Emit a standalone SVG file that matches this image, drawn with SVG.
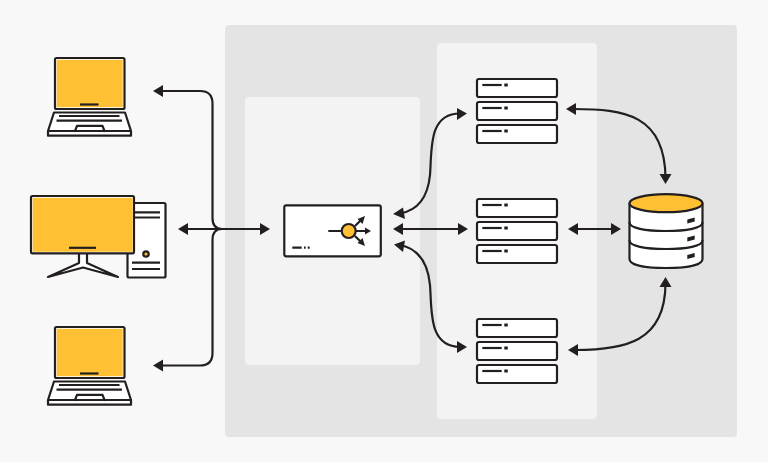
<svg xmlns="http://www.w3.org/2000/svg" width="768" height="462" viewBox="0 0 768 462">
<style>
.s{stroke:#231f20;stroke-width:2.200;fill:none;stroke-linecap:round;stroke-linejoin:round}
.b{stroke:#231f20;stroke-width:2.200;fill:none}
.w{fill:#fff}
.y{fill:#ffc133}
.c{stroke:#231f20;stroke-width:2.200;fill:none}
.a{fill:#231f20}
</style>
<defs>
<g id="laptop">
<rect class="s w" x="55" y="58" width="69.500" height="51" rx="1.500"/>
<rect class="y" x="56.700" y="59.800" width="66" height="47.400"/>
<path class="b" d="M80 104.500H98.500"/>
<path class="s w" d="M54 112.500H125L131 131V135.700H48V131Z"/>
<path class="b" d="M48 131H131M59 116H119.500M56.500 120.700H122"/>
<path class="s" d="M75 131L77 125.800H102.500L104.500 131"/>
</g>
<g id="rack">
<rect class="s w" x="477" y="0" width="80" height="18" rx="2"/>
<path class="b" d="M482.300 6H501.700"/>
<path class="b" d="M504.300 6H507.800" style="stroke-width:3"/>
</g>
</defs>
<rect width="768" height="462" fill="#f8f8f8"/>
<rect x="225" y="25" width="512" height="412" rx="4" fill="#e4e4e4"/>
<rect x="245" y="97" width="175" height="268" rx="4" fill="#f3f3f3"/>
<rect x="437" y="43" width="160" height="376" rx="4" fill="#f3f3f3"/>
<g id="connectors">
<path class="c" d="M160 91H200Q212.500 91 212.500 103.500V218Q212.500 229 222 229Q212.500 229 212.500 240V353Q212.500 365.500 200 365.500H160"/>
<path class="c" d="M185 229H263"/>
<path class="c" d="M400 213.500C420 210 428 195 430 175C432 150 428 113.500 460 113.500"/>
<path class="c" d="M400 229H461"/>
<path class="c" d="M400 245C420 249 428 264 430 285C432 310 428 346.500 460 347"/>
<path class="c" d="M573 109C625 109 665 115 665.500 178"/>
<path class="c" d="M575 229H614"/>
<path class="c" d="M575 350C625 350 665 342 665.500 284"/>
<g class="a">
<path d="M153 91L163 85V97Z"/>
<path d="M153 365.500L163 359.500V371.500Z"/>
<path d="M178 229L188 223V235Z"/>
<path d="M270 229L260 223V235Z"/>
<path d="M393 214L403 207.500L405 219Z"/>
<path d="M393 229L403 223V235Z"/>
<path d="M394 244.500L405 240.500L403 252Z"/>
<path d="M467 113.500L457 108V120Z"/>
<path d="M468 229L458 223V235Z"/>
<path d="M467 347L457 341V353Z"/>
<path d="M566 109L576 103V115Z"/>
<path d="M568 229L578 223V235Z"/>
<path d="M568 350L578 344V356Z"/>
<path d="M621 229L611 223V235Z"/>
<path d="M665.500 184L659.500 174H671.500Z"/>
<path d="M665.500 277L659.500 287H671.500Z"/>
</g>
</g>
<g id="laptop-top"><use href="#laptop"/></g>
<g id="laptop-bottom"><use href="#laptop" y="269"/></g>
<g id="desktop">
<rect class="s w" x="127.500" y="203" width="38" height="74.500" rx="1.500"/>
<path class="b" d="M135 212.300H160M135 217.500H160M132 262.700H160M132 269H160"/>
<circle class="s y" cx="146" cy="254" r="2.700"/>
<path class="s w" d="M79 253V263L48 277L83 267.500L118 277L87 263V253Z"/>
<rect class="s w" x="31" y="196" width="103" height="57.300" rx="1.500"/>
<rect class="y" x="32.700" y="197.800" width="100" height="54"/>
<path class="b" d="M69 247.800H96"/>
</g>
<g id="switch">
<rect class="s w" x="284.300" y="205.300" width="96.500" height="51" rx="2"/>
<path class="b" d="M328.300 231H342M292.300 247.700H301.700M304 247.700H305.700M307.700 247.700H309.700M355 226L361 220M355 236L361 242M356 231H366"/>
<path class="a" d="M365 216L362.500 224L357.500 219ZM365 246L357.500 243L362.500 238ZM371 231L365 227.500V234.500Z"/>
<circle class="s y" cx="348.700" cy="231" r="7"/>
</g>
<g id="servers-top"><use href="#rack" y="79"/><use href="#rack" y="102"/><use href="#rack" y="125"/></g>
<g id="servers-middle"><use href="#rack" y="199"/><use href="#rack" y="222"/><use href="#rack" y="245"/></g>
<g id="servers-bottom"><use href="#rack" y="319"/><use href="#rack" y="342"/><use href="#rack" y="365"/></g>
<g id="database">
<path class="s w" d="M629.500 203.500V259C629.500 265 645 268 666 268S702.500 265 702.500 259V203.500Z"/>
<path class="s" d="M629.500 222.500C629.500 228 645 231 666 231S702.500 228 702.500 222.500M629.500 240.500C629.500 246 645 249 666 249S702.500 246 702.500 240.500"/>
<ellipse class="s y" cx="666" cy="203.200" rx="36.500" ry="9"/>
<path class="a" d="M687.300 219.500L694.700 217.500V221.500L687.300 223.500ZM687.300 237.500L694.700 235.500V239.500L687.300 241.500ZM687.300 255L694.700 253V257L687.300 259Z"/>
</g>
</svg>
